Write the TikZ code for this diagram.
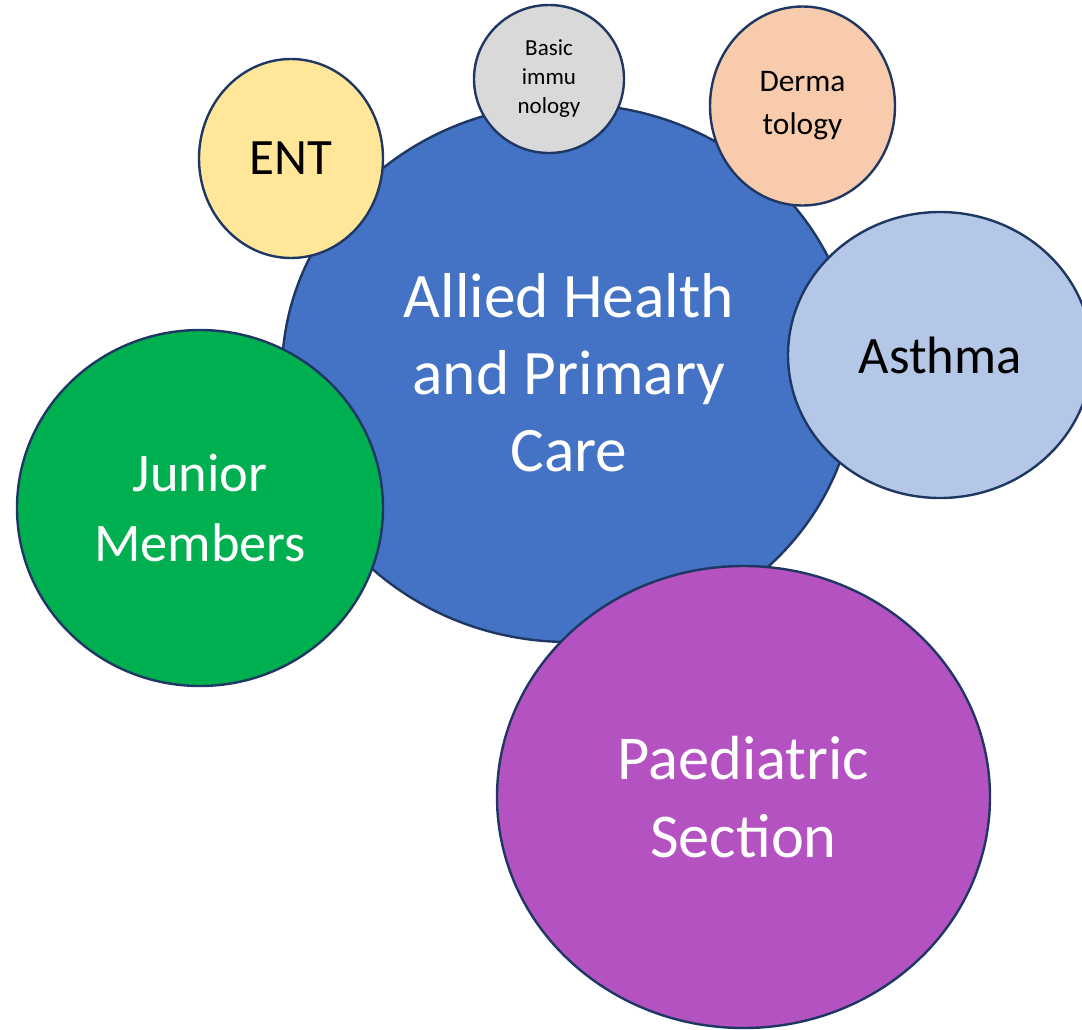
\documentclass[tikz,border=0pt]{standalone}
\usepackage{fontspec}
\setmainfont{Carlito}
\usetikzlibrary{shapes.geometric}

\definecolor{rim}{HTML}{1F3763}
\definecolor{alliedblue}{HTML}{4472C4}
\definecolor{juniorgreen}{HTML}{00B050}
\definecolor{paedpurple}{HTML}{B452C2}
\definecolor{asthmablue}{HTML}{B4C7E7}
\definecolor{entyellow}{HTML}{FFE699}
\definecolor{dermapeach}{HTML}{F8CBAD}
\definecolor{immugrey}{HTML}{D9D9D9}

\tikzset{bubble/.style={ellipse, draw=rim, line width=1.2pt, inner sep=0pt, align=center}}

\begin{document}
\begin{tikzpicture}[x=0.5pt, y=-0.5pt]
            \useasboundingbox (0, 0) rectangle (1082, 1029);
            \clip (0, 0) rectangle (1082, 1029);

            \node[bubble, fill=alliedblue, text=white, minimum width=287pt, minimum height=269pt, font=\fontsize{31.7}{38.5}\selectfont] (allied) at (569, 373) {Allied Health\\and Primary\\Care};
            \node[bubble, fill=juniorgreen, text=white, minimum width=183pt, minimum height=178pt, font=\fontsize{27.2}{35}\selectfont] (junior) at (200, 508) {Junior\\Members};
            \node[bubble, fill=paedpurple, text=white, minimum width=246.5pt, minimum height=231pt, font=\fontsize{31.2}{39}\selectfont] (paed) at (743.5, 797) {Paediatric\\Section};
            \node[bubble, fill=asthmablue, minimum width=152pt, minimum height=143pt, font=\fontsize{26.3}{31}\selectfont] (asthma) at (940, 355) {Asthma};
            \node[bubble, fill=entyellow, minimum width=92pt, minimum height=99.5pt, font=\fontsize{25.5}{30}\selectfont] (ent) at (291, 158.5) {ENT};
            \node[bubble, fill=immugrey, minimum width=75pt, minimum height=74pt, font=\fontsize{11.5}{14.5}\selectfont] (immu) at (549, 79) {Basic\\immu\\nology};
            \node[bubble, fill=dermapeach, minimum width=92.5pt, minimum height=99.5pt, font=\fontsize{15.7}{21.5}\selectfont] (derma) at (802.5, 106) {Derma\\tology};
        \end{tikzpicture}
\end{document}
